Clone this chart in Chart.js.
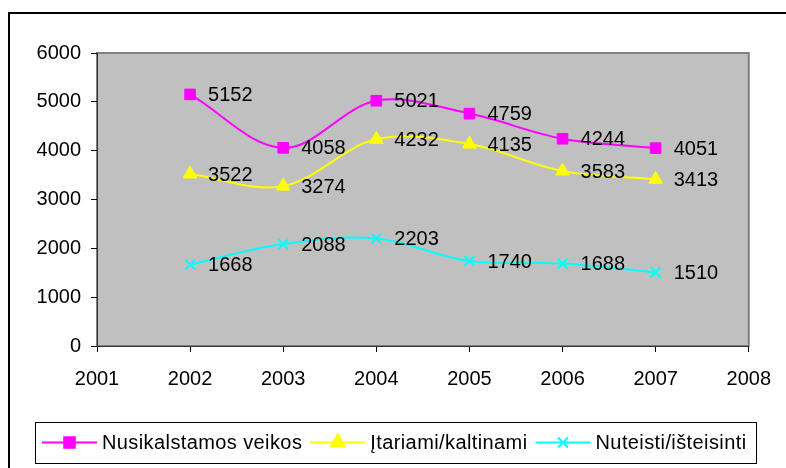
<!DOCTYPE html>
<html>
<head>
<meta charset="utf-8">
<script src="https://cdn.jsdelivr.net/npm/chart.js@4"></script>
<style>
  body { margin: 0; background: #fff; }
  canvas { display: block; }
</style>
</head>
<body>
<canvas id="crimeChart" width="786" height="468"></canvas>
<script>
// Data
var years = [2002, 2003, 2004, 2005, 2006, 2007];
var veikos = [5152, 4058, 5021, 4759, 4244, 4051];
var itariami = [3522, 3274, 4232, 4135, 3583, 3413];
var nuteisti = [1668, 2088, 2203, 1740, 1688, 1510];
var seriesNames = ['Nusikalstamos veikos', 'Įtariami/kaltinami', 'Nuteisti/išteisinti'];
var yTicks = [0, 1000, 2000, 3000, 4000, 5000, 6000];
var xTicks = [2001, 2002, 2003, 2004, 2005, 2006, 2007, 2008];

var FONT = 'Liberation Sans, Arial, sans-serif';

function toPoints(vals) {
    return vals.map(function (v, i) { return { x: years[i], y: v }; });
}

// Gray plot area, border and the outer frame
var backgroundPlugin = {
    id: 'background',
    beforeDraw: function (chart) {
        var ctx = chart.ctx;
        var a = chart.chartArea;
        ctx.save();
        ctx.fillStyle = '#fff';
        ctx.fillRect(0, 0, chart.width, chart.height);
        ctx.fillStyle = '#c0c0c0';
        ctx.fillRect(a.left, a.top, a.right - a.left, a.bottom - a.top);
        ctx.strokeStyle = '#808080';
        ctx.lineWidth = 2;
        ctx.strokeRect(a.left, a.top, a.right - a.left, a.bottom - a.top);
        // outer frame (only top and left fall inside the picture)
        ctx.strokeStyle = '#000';
        ctx.lineWidth = 2;
        ctx.beginPath();
        ctx.moveTo(9, 480);
        ctx.lineTo(9, 13);
        ctx.lineTo(800, 13);
        ctx.stroke();
        ctx.restore();
    }
};

// Value labels to the right of each point
var valueLabelPlugin = {
    id: 'valueLabels',
    afterDatasetsDraw: function (chart) {
        var ctx = chart.ctx;
        ctx.save();
        ctx.font = '20px ' + FONT;
        ctx.fillStyle = '#000';
        ctx.textAlign = 'left';
        ctx.textBaseline = 'middle';
        chart.data.datasets.forEach(function (ds, di) {
            var meta = chart.getDatasetMeta(di);
            meta.data.forEach(function (pt, i) {
                ctx.fillText(String(ds.data[i].y), pt.x + 18, pt.y + 1);
            });
        });
        ctx.restore();
    }
};

// Legend box at the bottom, drawn like the Excel one
var legendPlugin = {
    id: 'boxLegend',
    afterDraw: function (chart) {
        var ctx = chart.ctx;
        var boxL = 35, boxT = 422, boxW = 721, boxH = 41;
        var cy = boxT + boxH / 2;
        ctx.save();
        ctx.fillStyle = '#fff';
        ctx.fillRect(boxL, boxT, boxW, boxH);
        ctx.strokeStyle = '#000';
        ctx.lineWidth = 1;
        ctx.strokeRect(boxL + 0.5, boxT + 0.5, boxW, boxH);
        ctx.font = '20px ' + FONT;
        ctx.letterSpacing = '0.4px';
        ctx.textBaseline = 'middle';
        var x = 42;
        chart.data.datasets.forEach(function (ds) {
            ctx.strokeStyle = ds.borderColor;
            ctx.fillStyle = ds.backgroundColor;
            ctx.lineWidth = 2;
            ctx.beginPath();
            ctx.moveTo(x, cy);
            ctx.lineTo(x + 55, cy);
            ctx.stroke();
            Chart.helpers.drawPoint(ctx, {
                pointStyle: ds.pointStyle,
                radius: ds.pointRadius,
                borderWidth: ds.pointBorderWidth || 1
            }, x + 27.5, cy);
            ctx.fillStyle = '#000';
            ctx.fillText(ds.label, x + 60, cy + 1);
            x += 60 + ctx.measureText(ds.label).width + 8;
        });
        ctx.restore();
    }
};

var ctx = document.getElementById('crimeChart').getContext('2d');
var chart = new Chart(ctx, {
    type: 'line',
    data: {
        datasets: [
            {
                label: seriesNames[0],
                data: toPoints(veikos),
                borderColor: '#ff00ff',
                backgroundColor: '#ff00ff',
                pointStyle: 'rect',
                pointRadius: 7.5,
                pointBorderWidth: 1,
                borderWidth: 2,
                tension: 0.35,
                fill: false,
            },
            {
                label: seriesNames[1],
                data: toPoints(itariami),
                borderColor: '#ffff00',
                backgroundColor: '#ffff00',
                pointStyle: 'triangle',
                pointRadius: 8,
                pointBorderWidth: 1,
                borderWidth: 2,
                tension: 0.35,
                fill: false,
            },
            {
                label: seriesNames[2],
                data: toPoints(nuteisti),
                borderColor: '#00ffff',
                backgroundColor: '#00ffff',
                pointStyle: 'crossRot',
                pointRadius: 7,
                pointBorderWidth: 2,
                borderWidth: 2,
                tension: 0.35,
                fill: false,
            },
        ],
    },
    options: {
        responsive: false,
        animation: false,
        layout: { padding: { top: 53, right: 33, left: 0, bottom: 0 } },
        plugins: {
            legend: { display: false },
            tooltip: { enabled: false },
        },
        scales: {
            x: {
                type: 'linear',
                min: 2001,
                max: 2008,
                afterFit: function (s) { s.height = 122; },
                afterBuildTicks: function (s) {
                    s.ticks = xTicks.map(function (v) { return { value: v }; });
                },
                ticks: {
                    color: '#000',
                    font: { family: FONT, size: 20 },
                    padding: 15,
                    maxRotation: 0,
                    callback: function (v) { return String(v); },
                },
                grid: {
                    drawOnChartArea: false,
                    tickLength: 6,
                    color: '#000',
                },
                border: { color: '#333', width: 1 },
            },
            y: {
                min: 0,
                max: 6000,
                afterFit: function (s) { s.width = 97; },
                afterBuildTicks: function (s) {
                    s.ticks = yTicks.map(function (v) { return { value: v }; });
                },
                ticks: {
                    color: '#000',
                    font: { family: FONT, size: 20 },
                    padding: 10,
                    callback: function (v) { return String(v); },
                },
                grid: {
                    drawOnChartArea: false,
                    tickLength: 6,
                    color: '#000',
                },
                border: { color: '#333', width: 1 },
            },
        },
    },
    plugins: [backgroundPlugin, valueLabelPlugin, legendPlugin],
});
</script>
</body>
</html>
